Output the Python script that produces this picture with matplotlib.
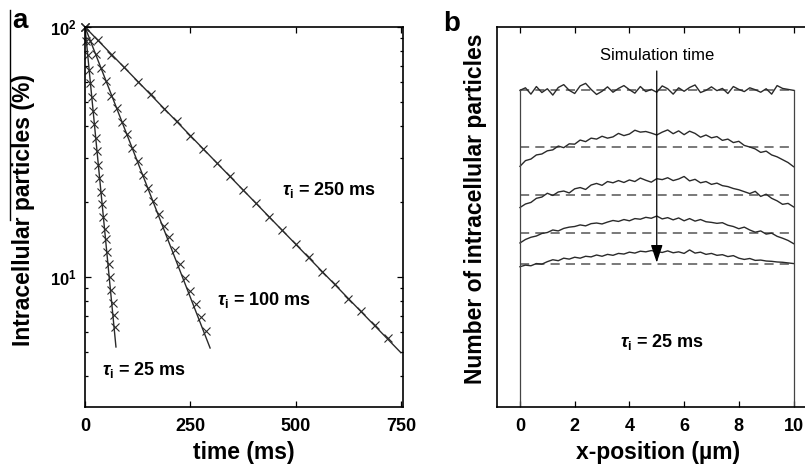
import matplotlib
matplotlib.use("Agg")
import matplotlib.pyplot as plt
from matplotlib.lines import Line2D
from matplotlib.ticker import LogLocator, NullFormatter, FixedLocator

plt.rcParams["font.family"] = ["Liberation Sans", "DejaVu Sans"]
plt.rcParams["mathtext.fontset"] = "custom"
plt.rcParams["mathtext.rm"] = "Liberation Sans:bold"
plt.rcParams["mathtext.it"] = "Liberation Sans:italic:bold"
plt.rcParams["mathtext.bf"] = "Liberation Sans:bold"

# ---- panel a: decay of intracellular particles ----
t_250 = [0, 31.25, 62.5, 93.75, 125, 156.25, 187.5, 218.75, 250, 281.25, 312.5, 343.75,
         375, 406.25, 437.5, 468.75, 500, 531.25, 562.5, 593.75, 625, 656.25, 687.5, 718.75]
v_250 = [100, 88.6, 77.5, 68.9, 60.3, 53.8, 47.0, 41.9, 36.6, 32.6, 28.5, 25.4,
         22.2, 19.8, 17.3, 15.4, 13.5, 12.0, 10.5, 9.35, 8.2, 7.3, 6.4, 5.7]

t_100 = [0, 12.5, 25, 37.5, 50, 62.5, 75, 87.5, 100, 112.5, 125, 137.5,
         150, 162.5, 175, 187.5, 200, 212.5, 225, 237.5, 250, 262.5, 275, 287.5]
v_100 = [100, 88.0, 78.2, 68.5, 61.0, 53.2, 47.6, 41.5, 37.2, 32.8, 29.0, 25.6,
         22.8, 20.1, 17.9, 16.0, 14.5, 12.8, 11.3, 9.9, 8.8, 7.8, 6.9, 6.1]

t_25 = [0, 3.125, 6.25, 9.375, 12.5, 15.625, 18.75, 21.875, 25, 28.125, 31.25, 34.375,
        37.5, 40.625, 43.75, 46.875, 50, 53.125, 56.25, 59.375, 62.5, 65.625, 68.75, 71.875]
v_25 = [100, 87.5, 77.0, 67.6, 59.6, 52.4, 46.3, 40.8, 36.0, 31.8, 28.0, 24.8,
        21.9, 19.5, 17.3, 15.6, 14.2, 12.6, 11.3, 10.0, 8.9, 7.9, 7.05, 6.3]

# fitted exponentials (straight on log axis), start / end
fit_250_t = [0, 750]
fit_250_v = [100, 4.98]
fit_100_t = [0, 297]
fit_100_v = [100, 5.2]
fit_25_t = [0, 73.5]
fit_25_v = [100, 5.25]

time_ticks = [0, 250, 500, 750]

# ---- panel b: spatial profiles at increasing simulation time ----
x_pos = [0.0, 0.2, 0.4, 0.6, 0.8, 1.0, 1.2, 1.4, 1.6, 1.8, 2.0, 2.2, 2.4, 2.6, 2.8, 3.0,
         3.2, 3.4, 3.6, 3.8, 4.0, 4.2, 4.4, 4.6, 4.8, 5.0, 5.2, 5.4, 5.6, 5.8, 6.0, 6.2,
         6.4, 6.6, 6.8, 7.0, 7.2, 7.4, 7.6, 7.8, 8.0, 8.2, 8.4, 8.6, 8.8, 9.0, 9.2, 9.4,
         9.6, 9.8, 10.0]

profile_1 = [100.0, 100.8, 98.8, 101.2, 99.3, 100.5, 98.5, 100.9, 101.8, 100.0, 99.0, 101.4,
             102.2, 100.3, 98.7, 99.7, 101.1, 99.4, 100.6, 101.5, 100.2, 99.1, 101.2, 99.6,
             100.3, 99.4, 101.4, 100.5, 98.8, 100.8, 99.7, 100.9, 101.7, 99.3, 100.0, 101.1,
             99.9, 100.6, 99.0, 101.2, 100.3, 99.6, 100.8, 100.2, 99.4, 100.5, 98.8, 101.5,
             100.6, 100.3, 100.0]
profile_2 = [76.0, 77.8, 78.3, 79.6, 79.9, 80.9, 81.2, 82.4, 81.9, 83.1, 83.0, 84.3,
             83.8, 84.9, 84.6, 85.5, 84.9, 85.3, 86.4, 85.7, 86.2, 87.4, 86.8, 87.0,
             86.5, 85.9, 86.8, 87.5, 86.3, 87.2, 86.0, 87.1, 86.4, 85.2, 85.9, 85.0,
             85.4, 84.2, 84.6, 83.5, 83.9, 82.6, 82.1, 81.5, 80.4, 80.8, 79.6, 79.0,
             78.1, 77.2, 75.9]
profile_3 = [63.0, 64.1, 64.6, 65.9, 66.3, 67.5, 66.8, 67.9, 68.2, 67.6, 68.9, 69.3,
             68.7, 70.1, 70.6, 70.0, 71.2, 70.8, 71.5, 70.9, 71.7, 71.2, 72.3, 71.6,
             71.0, 72.1, 71.8, 72.4, 71.5, 72.0, 72.8, 71.4, 71.9, 70.8, 71.2, 70.3,
             70.7, 69.9, 69.6, 69.0, 68.6, 68.0, 67.4, 68.1, 66.5, 67.2, 65.9, 65.1,
             64.0, 64.3, 63.2]
profile_4 = [51.8, 52.9, 53.6, 54.0, 54.8, 55.1, 55.9, 55.6, 56.4, 56.8, 57.0, 57.5,
             57.2, 57.9, 58.1, 57.8, 58.4, 58.9, 58.6, 59.2, 58.8, 59.5, 59.3, 59.9,
             59.6, 60.3, 59.4, 59.8, 59.1, 59.7, 58.8, 59.5, 58.7, 59.2, 58.5, 58.3,
             58.0, 58.2, 57.4, 57.0, 56.3, 56.8, 55.9, 55.2, 55.6, 54.6, 54.9, 53.9,
             53.3, 52.6, 51.6]
profile_5 = [44.3, 44.8, 44.6, 45.3, 45.1, 45.9, 46.5, 46.2, 47.0, 46.7, 47.3, 47.0,
             47.6, 47.4, 48.0, 47.6, 48.2, 47.9, 48.5, 48.3, 48.9, 48.6, 49.2, 49.0,
             49.4, 49.1, 48.8, 49.3, 48.7, 49.0, 48.5, 49.6, 48.6, 48.9, 48.2, 48.5,
             47.9, 48.1, 47.5, 47.8, 47.0, 46.6, 46.9, 46.3, 46.4, 46.1, 46.0, 45.8,
             45.7, 45.5, 45.3]
mean_levels = [100.0, 82.0, 67.0, 54.8, 45.2]
pos_ticks = [0, 2, 4, 6, 8, 10]

LINE_COLOR = "#2a2a2a"
DASH_COLOR = "#555555"


def style_ticks(ax, size):
    ax.tick_params(which="both", direction="in", top=True, right=True,
                   labelsize=size, width=0.9, colors="k")
    ax.tick_params(which="major", length=4)
    ax.tick_params(which="minor", length=2.5)
    for sp in ax.spines.values():
        sp.set_linewidth(1.2)


def plot_decay(ax):
    for t, v in [(t_250, v_250), (t_100, v_100), (t_25, v_25)]:
        ax.plot(t, v, "x", color=LINE_COLOR, ms=5.5, mew=0.8, clip_on=False)
    for t, v in [(fit_250_t, fit_250_v), (fit_100_t, fit_100_v), (fit_25_t, fit_25_v)]:
        ax.plot(t, v, "-", color=LINE_COLOR, lw=1.0)

    ax.set_yscale("log")
    ax.set_xlim(0, 755)
    ax.set_ylim(3.02, 100)
    ax.set_xticks(time_ticks)
    ax.set_xticklabels([str(t) for t in time_ticks], fontweight="bold")
    ax.yaxis.set_major_locator(FixedLocator([10, 100]))
    ax.set_yticklabels([r"$\mathrm{10^{1}}$", r"$\mathrm{10^{2}}$"])
    ax.yaxis.set_minor_locator(LogLocator(base=10, subs=range(2, 10)))
    ax.yaxis.set_minor_formatter(NullFormatter())
    style_ticks(ax, 13)
    ax.tick_params(axis="y", labelsize=12, pad=6)
    ax.tick_params(axis="x", pad=8)

    kw = dict(fontsize=13, fontweight="bold", ha="left", va="center")
    ax.text(467, 22.3, r"$\tau_\mathrm{i}$ = 250 ms", **kw)
    ax.text(313, 8.1, r"$\tau_\mathrm{i}$ = 100 ms", **kw)
    ax.text(40, 4.25, r"$\tau_\mathrm{i}$ = 25 ms", **kw)


def plot_profiles(ax):
    for level in mean_levels:
        ax.plot([0, 10], [level, level], "--", color=DASH_COLOR, lw=1.1, dashes=(6, 4))
    for prof in [profile_1, profile_2, profile_3, profile_4, profile_5]:
        ax.plot(x_pos, prof, "-", color=LINE_COLOR, lw=1.0)
    ax.plot([0, 0], [0, mean_levels[0]], color="#444444", lw=0.9)
    ax.plot([10, 10], [0, mean_levels[0]], color="#444444", lw=0.9)

    ax.annotate("", xy=(5, 45.6), xytext=(5, 106.1),
                arrowprops=dict(arrowstyle="-|>,head_length=0.9,head_width=0.3",
                                color="k", lw=0.9, mutation_scale=12, shrinkA=0, shrinkB=0))
    ax.text(5, 111.1, "Simulation time", fontsize=12, ha="center", va="center")
    ax.text(3.66, 20.5, r"$\tau_\mathrm{i}$ = 25 ms", fontsize=13, fontweight="bold",
            ha="left", va="center")

    ax.set_xlim(-0.84, 10.84)
    ax.set_ylim(0, 120)
    ax.set_xticks(pos_ticks)
    ax.set_xticklabels([str(p) for p in pos_ticks], fontweight="bold")
    ax.set_yticks([])
    style_ticks(ax, 13)
    ax.tick_params(axis="x", pad=8)


def main():
    W, H = 805, 469
    fig = plt.figure(figsize=(W / 100, H / 100), dpi=100)

    ax_a = fig.add_axes([85 / W, 62 / H, 318 / W, 380 / H])
    ax_b = fig.add_axes([497 / W, 62 / H, 319.5 / W, 380 / H])
    plot_decay(ax_a)
    plot_profiles(ax_b)

    lab = dict(fontsize=16.5, fontweight="bold", ha="center", va="center")
    fig.text(244 / W, 1 - 452 / H, "time (ms)", **lab)
    fig.text(658 / W, 1 - 452 / H, "x-position (µm)", **lab)
    fig.text(23.5 / W, 1 - 210 / H, "Intracellular particles (%)", rotation=90, **lab)
    fig.text(475 / W, 1 - 209 / H, "Number of intracellular particles", rotation=90, **lab)

    # bar drawn left of the panel a label in the original
    fig.add_artist(Line2D([10 / W, 10 / W], [1 - 10 / H, 1 - 220 / H],
                          transform=fig.transFigure, color="k", lw=1))

    fig.text(20 / W, 1 - 21 / H, "a", fontsize=20, fontweight="bold", ha="center", va="center")
    fig.text(452 / W, 1 - 24 / H, "b", fontsize=20, fontweight="bold", ha="center", va="center")

    fig.savefig("out.png", dpi=100)
    plt.close(fig)


if __name__ == "__main__":
    main()
